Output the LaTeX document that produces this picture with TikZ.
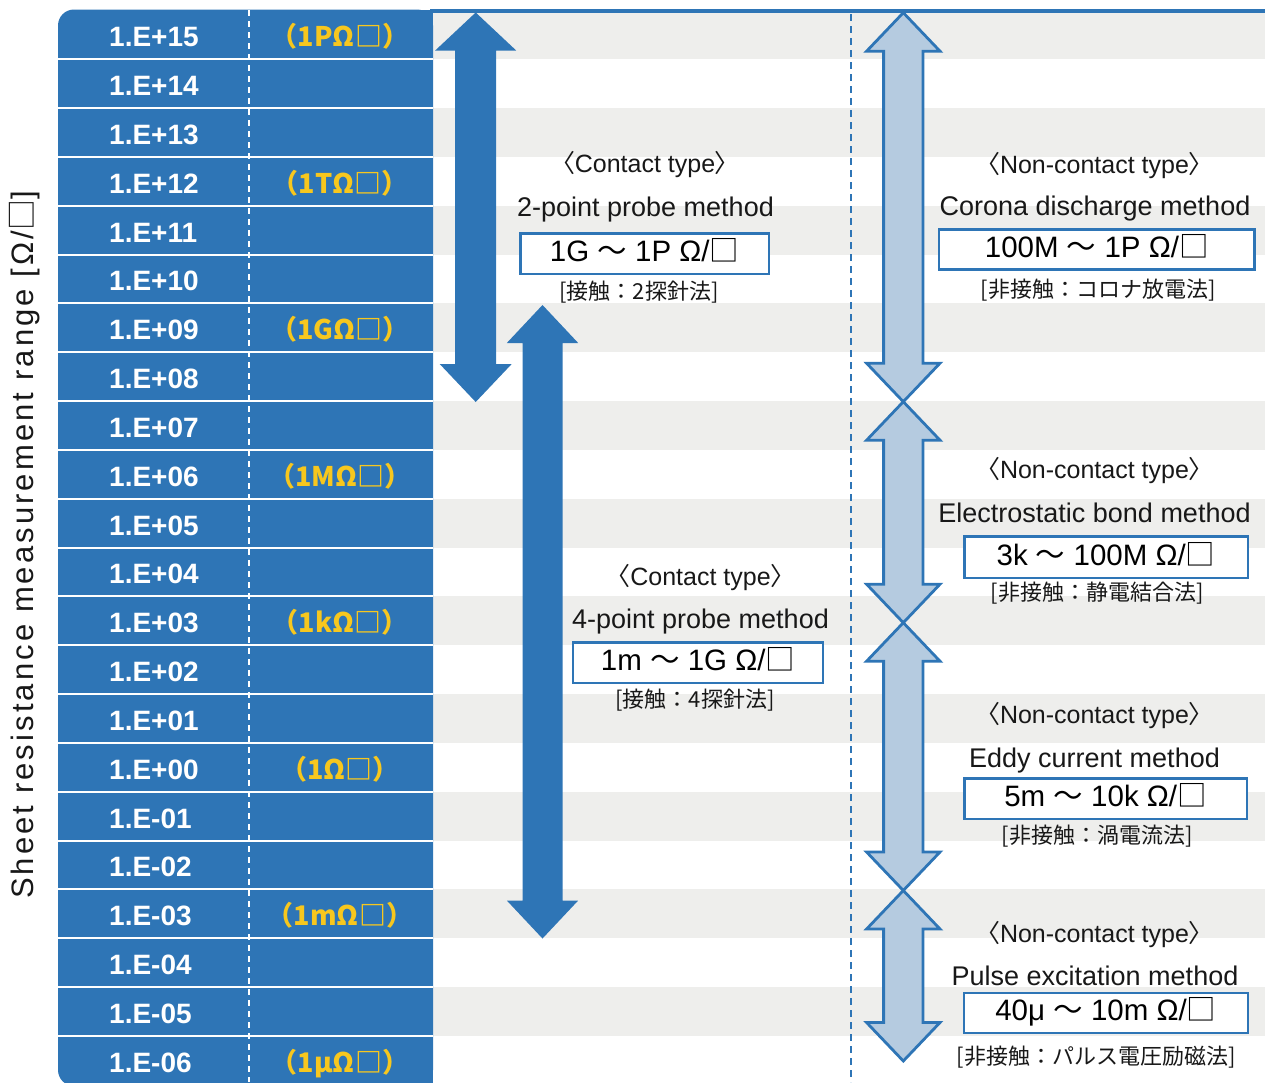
\documentclass[tikz,border=0pt]{standalone}
\usepackage{fontspec}
\setmainfont{Liberation Sans}
\newfontfamily\jp{Noto Sans CJK JP}
\newfontfamily\jpp[RawFeature=+palt]{Noto Sans CJK JP}
\newfontfamily\ylabfont[LetterSpace=10]{Liberation Sans}
\definecolor{tblue}{RGB}{46,117,182}
\definecolor{lblue}{RGB}{181,203,224}
\definecolor{stripe}{RGB}{238,238,236}
\definecolor{gold}{RGB}{247,199,30}
\definecolor{txt}{RGB}{24,24,24}
\newcommand\fs[1]{\fontsize{#1}{#1}\selectfont}
\newcommand\myla{{\jpp 〈}}
\newcommand\myra{{\jpp 〉}}
\newcommand\wv{{\jp ～}}
\newcommand\sq{{\jp □}}
% #1 style, #2 cx, #3 ytop, #4 ybot, #5 shaft half, #6 top head half, #7 bottom head half, #8 head height
\newcommand\dblarrow[8]{%
  \path[#1] (#2,#3) -- ({#2+#6},{#3+#8}) -- ({#2+#5},{#3+#8}) -- ({#2+#5},{#4-#8}) -- ({#2+#7},{#4-#8}) -- (#2,#4)
    -- ({#2-#7},{#4-#8}) -- ({#2-#5},{#4-#8}) -- ({#2-#5},{#3+#8}) -- ({#2-#6},{#3+#8}) -- cycle;}
\begin{document}
\begin{tikzpicture}[x=1pt,y=-1pt,
  hdr/.style={anchor=base, inner sep=0pt, text=txt, font=\fs{25}},
  ttl/.style={anchor=base, inner sep=0pt, text=txt, font=\fs{27}},
  note/.style={anchor=base, inner sep=0pt, text=txt, font=\jp\fs{22}},
  rng/.style={draw=tblue, line width=2.5pt, fill=white, inner sep=0pt, text=black, font=\fs{29.5},
    text height=16pt, text depth=0pt},
  rowlab/.style={anchor=base west, inner sep=0pt, text=white, font=\bfseries\fs{28}},
  ylw/.style={anchor=base, inner sep=0pt, text=gold, font=\jp\bfseries\fs{27}},
  lar/.style={fill=lblue, draw=tblue, line width=2.8pt, miter limit=10},
  dar/.style={fill=tblue}]
\useasboundingbox (0,0) rectangle (1265,1082);
% stripes
\foreach \i in {0,2,...,20}
  \fill[stripe] (433,{10.5+48.83*\i}) rectangle (1265,{10.5+48.83*(\i+1)});
% top line and dashed divider
\draw[tblue, line width=4pt] (430,11.3) -- (1265,11.3);
\draw[tblue, line width=2pt, dash pattern=on 7pt off 5pt] (851,14) -- (851,1082);
% table
\fill[tblue, rounded corners=16pt] (58,9.5) rectangle (433,1086);
\fill[tblue] (400,9.5) rectangle (433,1086);
\foreach \k in {1,...,21}
  \draw[white, line width=2pt] (58,{10.5+48.83*\k}) -- (433,{10.5+48.83*\k});
\draw[white, line width=1.8pt, dash pattern=on 6pt off 5pt] (249,10) -- (249,1082);
\foreach \t [count=\n from 0] in {1.E+15,1.E+14,1.E+13,1.E+12,1.E+11,1.E+10,1.E+09,1.E+08,1.E+07,1.E+06,1.E+05,1.E+04,1.E+03,1.E+02,1.E+01,1.E+00,1.E-01,1.E-02,1.E-03,1.E-04,1.E-05,1.E-06}
  \node[rowlab] (r\n) at (109,{10.5+48.83*(\n+0.5)+11.8}) {\t};
\foreach \n/\p in {0/1P,3/1T,6/1G,9/1M,12/1k,15/1,18/1m,21/1μ}
  \node[ylw] (u\n) at (340,{10.5+48.83*(\n+0.5)+11.8}) {（\p Ω□）};
% axis label
\node[rotate=90, anchor=base, inner sep=0pt, text=txt, font=\ylabfont\fs{31}] (ylabel) at (33,545)
  {Sheet resistance measurement range [Ω/\sq]};
% contact arrows
\dblarrow{dar}{475.7}{12.5}{402}{20.5}{40.5}{36}{38}
\dblarrow{dar}{542.5}{305}{938.5}{20}{35.7}{35.7}{38}
% non-contact arrows
\dblarrow{lar}{903.3}{12.7}{401.7}{19.7}{36.7}{36.7}{38.5}
\dblarrow{lar}{903.3}{401.7}{622.7}{19.7}{36.7}{36.7}{38.5}
\dblarrow{lar}{903.3}{622.7}{890.5}{19.7}{36.7}{36.7}{38.5}
\dblarrow{lar}{903.3}{890.5}{1061}{19.7}{36.7}{36.7}{38.5}
% 2-point
\node[hdr] (h2) at (645,172.7) {\myla Contact type\myra};
\node[ttl] (t2) at (645.5,216) {2-point probe method};
\node[rng, minimum width=248.5pt, minimum height=40.5pt] (b2) at (644.5,253.8) {1G \wv{} 1P Ω/\sq};
\node[note] (n2) at (639,299.5) {[接触：2探針法]};
% 4-point
\node[hdr] (h4) at (700.5,585.7) {\myla Contact type\myra};
\node[ttl] (t4) at (700.5,628.3) {4-point probe method};
\node[rng, minimum width=250pt, minimum height=40.5pt] (b4) at (698,662.5) {1m \wv{} 1G Ω/\sq};
\node[note] (n4) at (695,707.8) {[接触：4探針法]};
% corona
\node[hdr] (hc) at (1094.5,173.3) {\myla Non-contact type\myra};
\node[ttl] (tc) at (1095,215.7) {Corona discharge method};
\node[rng, minimum width=315.5pt, minimum height=40pt] (bc) at (1096.7,249.5) {100M \wv{} 1P Ω/\sq};
\node[note] (nc) at (1098,297.8) {[非接触：コロナ放電法]};
% electrostatic
\node[hdr] (he) at (1094.5,478.3) {\myla Non-contact type\myra};
\node[ttl] (te) at (1094.5,522.3) {Electrostatic bond method};
\node[rng, minimum width=283.5pt, minimum height=41.5pt] (be) at (1106,557) {3k \wv{} 100M Ω/\sq};
\node[note] (ne) at (1097,600.2) {[非接触：静電結合法]};
% eddy
\node[hdr] (hd) at (1094.5,723.5) {\myla Non-contact type\myra};
\node[ttl] (td) at (1094.5,767.5) {Eddy current method};
\node[rng, minimum width=282.5pt, minimum height=40.5pt] (bd) at (1105.5,798.5) {5m \wv{} 10k Ω/\sq};
\node[note] (nd) at (1097,843.5) {[非接触：渦電流法]};
% pulse
\node[hdr] (hp) at (1094.5,942.3) {\myla Non-contact type\myra};
\node[ttl] (tp) at (1095,985.7) {Pulse excitation method};
\node[rng, minimum width=284pt, minimum height=40pt] (bp) at (1105.8,1012.8) {40μ \wv{} 10m Ω/\sq};
\node[note] (np) at (1096,1064) {[非接触：パルス電圧励磁法]};
\end{tikzpicture}
\end{document}
